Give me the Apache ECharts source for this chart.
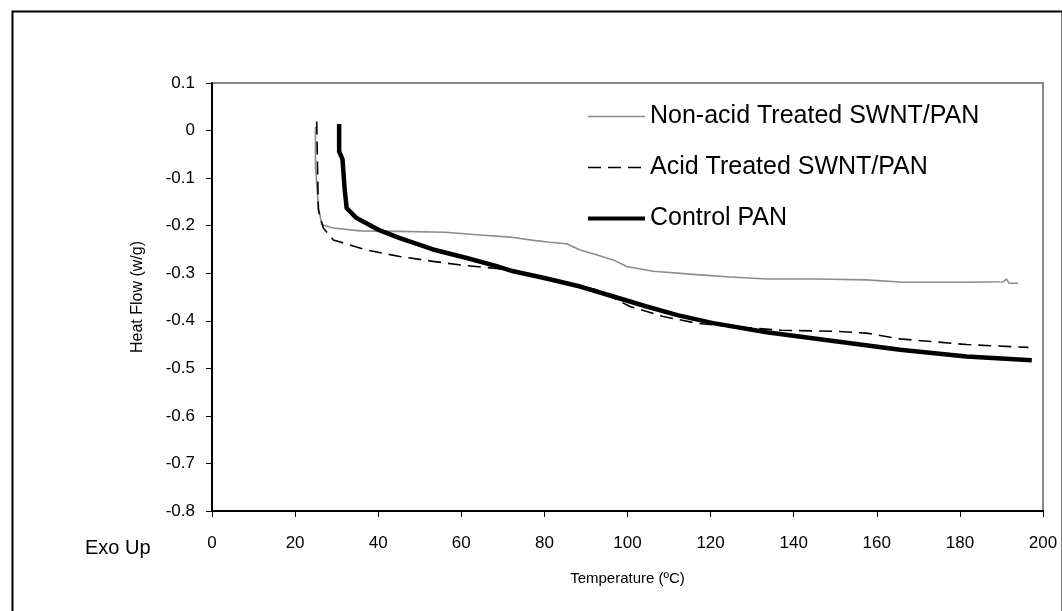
<!DOCTYPE html>
<html>
<head>
<meta charset="utf-8">
<script src="https://cdn.jsdelivr.net/npm/echarts@6/dist/echarts.min.js"></script>
<style>
html,body{margin:0;padding:0;background:#fff;}
#chart{width:1062px;height:611px;}
</style>
</head>
<body>
<div id="chart"></div>
<script>
// Series names
const seriesNames = ['Non-acid Treated SWNT/PAN', 'Acid Treated SWNT/PAN', 'Control PAN'];

// Non-acid Treated SWNT/PAN: temperature (°C) and heat flow (w/g)
const nonAcidT = [24.9, 24.9, 25.6, 26.4, 29.2, 35.6, 45, 56.1, 63.7, 71.7, 77.4, 81.3, 85.3, 88.6, 92.5, 96.6, 99.8, 106.2, 116.6, 124.7, 133.5, 145.5, 157.5, 166.4, 181.6, 190.5, 191.2, 191.8, 194];
const nonAcidV = [0.008, -0.076, -0.16, -0.198, -0.205, -0.211, -0.212, -0.214, -0.219, -0.224, -0.231, -0.235, -0.238, -0.251, -0.261, -0.272, -0.286, -0.296, -0.303, -0.308, -0.312, -0.312, -0.314, -0.319, -0.319, -0.318, -0.312, -0.321, -0.321];

// Acid Treated SWNT/PAN
const acidT = [25.2, 25.4, 25.6, 26.8, 29.2, 37.2, 45.2, 53.2, 60, 68.5, 80.5, 88, 92.5, 96.6, 100.6, 108.6, 116.6, 124.7, 137.1, 150, 157.5, 165.6, 181.6, 196.5];
const acidV = [0.019, -0.08, -0.167, -0.205, -0.23, -0.251, -0.265, -0.275, -0.283, -0.29, -0.31, -0.325, -0.335, -0.352, -0.37, -0.391, -0.405, -0.412, -0.42, -0.422, -0.426, -0.438, -0.45, -0.456];

// Control PAN
const controlT = [30.6, 30.6, 31.4, 31.9, 32.4, 34.8, 40.4, 45.2, 53.2, 61.3, 68.5, 72.5, 80, 88.6, 96.6, 104.6, 112, 120.6, 133.5, 150, 165.6, 181.6, 197.3];
const controlV = [0.014, -0.044, -0.06, -0.12, -0.163, -0.184, -0.21, -0.226, -0.25, -0.268, -0.285, -0.296, -0.31, -0.328, -0.349, -0.37, -0.388, -0.405, -0.424, -0.443, -0.461, -0.475, -0.483];

// Axis settings
const xMin = 0, xMax = 200, xStep = 20;
const yMin = -0.8, yMax = 0.1, yStep = 0.1;

function pairs(t, v) { return t.map((x, i) => [x, v[i]]); }

const FONT = '"Liberation Sans", Arial, sans-serif';
const chart = echarts.init(document.getElementById('chart'), null, {renderer: 'canvas'});

chart.setOption({
  animation: false,
  backgroundColor: '#fff',
  grid: {
    left: 212, right: 19, top: 83, bottom: 100,
    show: true, borderColor: '#8a8a8a', borderWidth: 2, backgroundColor: 'transparent'
  },
  legend: {
    orient: 'vertical',
    left: 581, top: 99,
    itemWidth: 57, itemHeight: 14, itemGap: 26,
    itemStyle: {color: 'transparent', borderWidth: 0, opacity: 0},
    textStyle: {fontFamily: FONT, fontSize: 25, color: '#000', lineHeight: 24},
    data: [
      {name: seriesNames[0], lineStyle: {width: 1.6}},
      {name: seriesNames[1], lineStyle: {width: 1.6}},
      {name: seriesNames[2], lineStyle: {width: 4}}
    ]
  },
  xAxis: {
    type: 'value', min: xMin, max: xMax, interval: xStep,
    name: 'Temperature (ºC)', nameLocation: 'middle', nameGap: 60,
    nameTextStyle: {fontFamily: FONT, fontSize: 15, color: '#000'},
    axisLine: {show: true, onZero: false, lineStyle: {color: '#000', width: 2}},
    axisTick: {show: true, length: 6, lineStyle: {color: '#000', width: 1}},
    axisLabel: {fontFamily: FONT, fontSize: 17, color: '#000', margin: 24},
    splitLine: {show: false}
  },
  yAxis: {
    type: 'value', min: yMin, max: yMax, interval: yStep,
    name: 'Heat Flow (w/g)', nameLocation: 'middle', nameGap: 66,
    nameTextStyle: {fontFamily: FONT, fontSize: 16, color: '#000'},
    axisLine: {show: true, onZero: false, lineStyle: {color: '#000', width: 2}},
    axisTick: {show: true, length: 6, lineStyle: {color: '#000', width: 1}},
    axisLabel: {fontFamily: FONT, fontSize: 17, color: '#000', margin: 17,
      formatter: v => { const r = Math.round(v * 10) / 10; return r === 0 ? '0' : String(r); }},
    splitLine: {show: false}
  },
  graphic: [
    {type: 'rect', left: 10, top: 9, shape: {width: 1050, height: 601},
     style: {fill: 'none', stroke: '#000', lineWidth: 2}, silent: true},
    {type: 'text', left: 85, top: 538,
     style: {text: 'Exo Up', font: '20px "Liberation Sans", Arial, sans-serif', fill: '#000'}}
  ],
  series: [
    {name: seriesNames[0], type: 'line', symbol: 'none', data: pairs(nonAcidT, nonAcidV),
     lineStyle: {color: '#8c8c8c', width: 1.6}, itemStyle: {color: '#8c8c8c'}, z: 2},
    {name: seriesNames[1], type: 'line', symbol: 'none', data: pairs(acidT, acidV),
     lineStyle: {color: '#000', width: 1.6, type: [13, 7]}, itemStyle: {color: '#000'}, z: 3},
    {name: seriesNames[2], type: 'line', symbol: 'none', data: pairs(controlT, controlV),
     lineStyle: {color: '#000', width: 4.5}, itemStyle: {color: '#000'}, z: 4}
  ]
});
</script>
</body>
</html>
